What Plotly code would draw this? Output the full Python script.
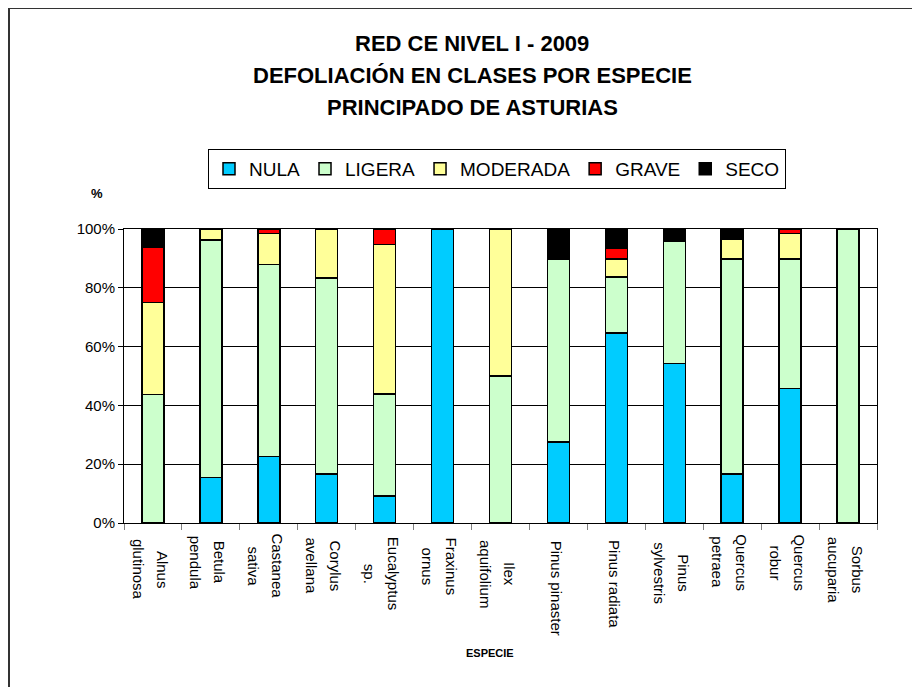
import plotly.graph_objects as go

especies = ["Alnus<br>glutinosa", "Betula<br>pendula", "Castanea<br>sativa", "Corylus<br>avellana",
            "Eucalyptus<br>sp.", "Fraxinus<br>ornus", "Ilex<br>aquifolium", "Pinus pinaster",
            "Pinus radiata", "Pinus<br>sylvestris", "Quercus<br>petraea", "Quercus<br>robur",
            "Sorbus<br>aucuparia"]

nula     = [0.0, 15.4, 22.7, 16.7, 9.2, 100.0, 0.0, 27.6, 64.7, 54.2, 16.6, 45.8, 0.0]
ligera   = [43.75, 80.8, 65.2, 66.6, 34.6, 0.0, 50.0, 62.1, 19.0, 41.6, 73.2, 44.0, 100.0]
moderada = [31.25, 3.8, 10.6, 16.7, 50.9, 0.0, 50.0, 0.0, 6.1, 0.0, 6.6, 8.7, 0.0]
grave    = [18.75, 0.0, 1.5, 0.0, 5.3, 0.0, 0.0, 0.0, 3.7, 0.0, 0.0, 1.5, 0.0]
seco     = [6.25, 0.0, 0.0, 0.0, 0.0, 0.0, 0.0, 10.3, 6.5, 4.2, 3.6, 0.0, 0.0]

series_names = ["NULA", "LIGERA", "MODERADA", "GRAVE", "SECO"]
series_vals = [nula, ligera, moderada, grave, seco]
series_colors = ["#00CCFF", "#CCFFCC", "#FFFF99", "#FF0000", "#000000"]

y_tickvals = [0, 20, 40, 60, 80, 100]
y_ticktext = ["0%", "20%", "40%", "60%", "80%", "100%"]

title_lines = ["RED CE NIVEL I - 2009", "DEFOLIACIÓN EN CLASES POR ESPECIE", "PRINCIPADO DE ASTURIAS"]

# page has an 8px body margin: figure coordinates = screen coordinates - 8
OFF = 8
W, H = 920 - OFF, 687 - OFF
L, R, T, B = 124 - OFF, 877 - OFF, 229 - OFF, 523 - OFF

def px_x(sx):
    return (sx - OFF - L) / (R - L)

def px_y(sy):
    return (B - (sy - OFF)) / (B - T)

fig = go.Figure()
for name, vals, col in zip(series_names, series_vals, series_colors):
    fig.add_trace(go.Bar(x=especies, y=vals, name=name,
                         marker=dict(color=col, line=dict(color="black", width=1.5))))

font_family = "Liberation Sans, Arial, sans-serif"

annotations = []
for i, line in enumerate(title_lines):
    annotations.append(dict(text="<b>%s</b>" % line, x=px_x(472), y=px_y(43 + 32 * i),
                            xref="paper", yref="paper", xanchor="center", yanchor="middle",
                            showarrow=False, font=dict(size=22, color="black", family=font_family)))
annotations.append(dict(text="<b>%</b>", x=px_x(97), y=px_y(193), xref="paper", yref="paper",
                        xanchor="center", yanchor="middle", showarrow=False,
                        font=dict(size=13, color="black", family=font_family)))
annotations.append(dict(text="<b>ESPECIE</b>", x=px_x(490), y=px_y(653), xref="paper", yref="paper",
                        xanchor="center", yanchor="middle", showarrow=False,
                        font=dict(size=11, color="black", family=font_family)))

# category labels, rotated, lines centred on each other
LBL_FONT = 15
CHAR_W = 7.3
for cat in especies:
    parts = cat.split("<br>")
    longest = max(len(p) for p in parts)
    mid_y = 537 + 0.5 * CHAR_W * longest
    if len(parts) == 1:
        shifts = [-2]
    else:
        shifts = [9, -15]
    for part, sh in zip(parts, shifts):
        annotations.append(dict(text=part, x=cat, xref="x", y=px_y(mid_y), yref="paper",
                                xshift=sh, textangle=90, xanchor="center", yanchor="middle",
                                showarrow=False,
                                font=dict(size=LBL_FONT, color="black", family=font_family)))

fig.update_layout(
    width=W, height=H,
    barmode="stack", bargap=0.62,
    paper_bgcolor="white", plot_bgcolor="white",
    margin=dict(l=L, r=W - R, t=T, b=H - B, autoexpand=False),
    font=dict(family=font_family, color="black", size=14),
    annotations=annotations,
    showlegend=True,
    legend=dict(orientation="h", x=px_x(497), y=px_y(169), xanchor="center", yanchor="middle",
                bordercolor="black", borderwidth=1, bgcolor="white",
                font=dict(size=19, family=font_family, color="black"),
                traceorder="normal", itemclick=False, itemwidth=30),
    shapes=[
        dict(type="line", xref="paper", yref="paper", x0=px_x(9), x1=px_x(9), y0=px_y(7), y1=px_y(700),
             line=dict(color="#333333", width=2)),
        dict(type="line", xref="paper", yref="paper", x0=px_x(9), x1=px_x(930), y0=px_y(8), y1=px_y(8),
             line=dict(color="#333333", width=2)),
    ],
)

fig.update_yaxes(range=[0, 100], tickmode="array", tickvals=y_tickvals, ticktext=y_ticktext,
                 showgrid=True, gridcolor="black", gridwidth=1,
                 showline=True, linecolor="black", linewidth=1, mirror=True,
                 ticks="outside", ticklen=5, tickcolor="black",
                 tickfont=dict(size=15), zeroline=False)
fig.update_xaxes(showticklabels=False, tickson="boundaries", ticks="outside", ticklen=6, tickcolor="gray",
                 showline=True, linecolor="black", linewidth=1, mirror=True,
                 showgrid=False)

fig.write_html("out.html")
